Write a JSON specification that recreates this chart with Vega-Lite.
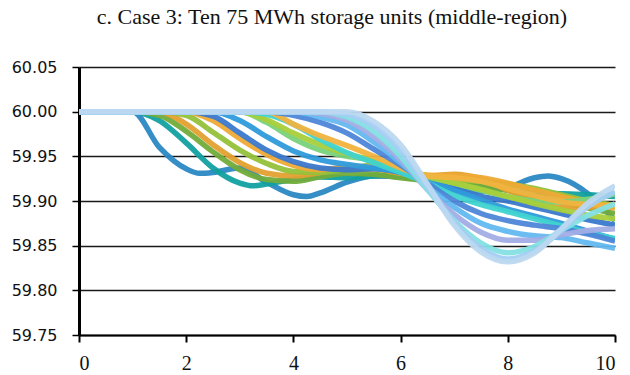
{
  "$schema": "https://vega.github.io/schema/vega-lite/v6.json",
  "width": 536,
  "height": 268,
  "autosize": {"type": "none"},
  "padding": {"left": 79, "top": 67, "right": 15, "bottom": 40},
  "background": "white",
  "title": {"text": "c. Case 3: Ten 75 MWh storage units (middle-region)", "font": "Liberation Serif", "fontSize": 22, "fontWeight": "normal", "color": "#111111", "anchor": "middle", "dx": -15, "offset": 30},
  "config": {"view": {"stroke": null}},
  "data": {"values": [
    {"t": 0, "c01": 60, "c02": 60, "c03": 60, "c04": 60, "c05": 60, "c06": 60, "c07": 60, "c08": 60, "c09": 60, "c10": 60, "c11": 60, "c12": 60, "c13": 60, "c14": 60, "c15": 60, "c16": 60, "c17": 60, "c18": 60},
    {"t": 0.5, "c01": 60, "c02": 60, "c03": 60, "c04": 60, "c05": 60, "c06": 60, "c07": 60, "c08": 60, "c09": 60, "c10": 60, "c11": 60, "c12": 60, "c13": 60, "c14": 60, "c15": 60, "c16": 60, "c17": 60, "c18": 60},
    {"t": 1.0, "c01": 60, "c02": 60, "c03": 60, "c04": 60, "c05": 60, "c06": 60, "c07": 60, "c08": 60, "c09": 60, "c10": 60, "c11": 60, "c12": 60, "c13": 60, "c14": 60, "c15": 60, "c16": 60, "c17": 60, "c18": 60},
    {"t": 1.5, "c01": 59.96, "c02": 59.99, "c03": 59.996, "c04": 60, "c05": 60, "c06": 60, "c07": 60, "c08": 60, "c09": 60, "c10": 60, "c11": 60, "c12": 60, "c13": 60, "c14": 60, "c15": 60, "c16": 60, "c17": 60, "c18": 60},
    {"t": 2.0, "c01": 59.936, "c02": 59.965, "c03": 59.978, "c04": 59.986, "c05": 59.996, "c06": 60, "c07": 60, "c08": 60, "c09": 60, "c10": 60, "c11": 60, "c12": 60, "c13": 60, "c14": 60, "c15": 60, "c16": 60, "c17": 60, "c18": 60},
    {"t": 2.25, "c01": 59.931},
    {"t": 2.5, "c01": 59.932, "c02": 59.937, "c03": 59.955, "c04": 59.963, "c05": 59.977, "c06": 59.99, "c07": 59.995, "c08": 60, "c09": 60, "c10": 60, "c11": 60, "c12": 60, "c13": 60, "c14": 60, "c15": 60, "c16": 60, "c17": 60, "c18": 60},
    {"t": 3.0, "c01": 59.937, "c02": 59.92, "c03": 59.935, "c04": 59.943, "c05": 59.957, "c06": 59.97, "c07": 59.976, "c08": 59.99, "c09": 60, "c10": 60, "c11": 60, "c12": 60, "c13": 60, "c14": 60, "c15": 60, "c16": 60, "c17": 60, "c18": 60},
    {"t": 3.25, "c02": 59.917},
    {"t": 3.5, "c01": 59.921, "c02": 59.919, "c03": 59.924, "c04": 59.931, "c05": 59.942, "c06": 59.952, "c07": 59.957, "c08": 59.972, "c09": 59.988, "c10": 59.991, "c11": 59.997, "c12": 60, "c13": 60, "c14": 60, "c15": 60, "c16": 60, "c17": 60, "c18": 60},
    {"t": 4.0, "c01": 59.907, "c02": 59.924, "c03": 59.922, "c04": 59.928, "c05": 59.933, "c06": 59.94, "c07": 59.944, "c08": 59.956, "c09": 59.97, "c10": 59.976, "c11": 59.986, "c12": 59.986, "c13": 59.996, "c14": 60, "c15": 60, "c16": 60, "c17": 60, "c18": 60},
    {"t": 4.25, "c01": 59.905},
    {"t": 4.5, "c01": 59.909, "c02": 59.927, "c03": 59.927, "c04": 59.932, "c05": 59.932, "c06": 59.935, "c07": 59.937, "c08": 59.946, "c09": 59.957, "c10": 59.963, "c11": 59.969, "c12": 59.973, "c13": 59.988, "c14": 59.994, "c15": 59.998, "c16": 60, "c17": 60, "c18": 60},
    {"t": 5.0, "c01": 59.921, "c02": 59.926, "c03": 59.931, "c04": 59.937, "c05": 59.936, "c06": 59.938, "c07": 59.935, "c08": 59.941, "c09": 59.95, "c10": 59.953, "c11": 59.954, "c12": 59.962, "c13": 59.976, "c14": 59.985, "c15": 59.99, "c16": 59.994, "c17": 59.997, "c18": 60},
    {"t": 5.5, "c01": 59.928, "c02": 59.928, "c03": 59.93, "c04": 59.936, "c05": 59.94, "c06": 59.938, "c07": 59.936, "c08": 59.937, "c09": 59.946, "c10": 59.945, "c11": 59.943, "c12": 59.95, "c13": 59.958, "c14": 59.966, "c15": 59.972, "c16": 59.978, "c17": 59.984, "c18": 59.989},
    {"t": 6.0, "c01": 59.927, "c02": 59.929, "c03": 59.926, "c04": 59.931, "c05": 59.936, "c06": 59.933, "c07": 59.932, "c08": 59.932, "c09": 59.937, "c10": 59.936, "c11": 59.932, "c12": 59.937, "c13": 59.94, "c14": 59.943, "c15": 59.946, "c16": 59.95, "c17": 59.957, "c18": 59.963},
    {"t": 6.5, "c01": 59.922, "c02": 59.925, "c03": 59.923, "c04": 59.928, "c05": 59.928, "c06": 59.929, "c07": 59.922, "c08": 59.922, "c09": 59.927, "c10": 59.928, "c11": 59.92, "c12": 59.928, "c13": 59.92, "c14": 59.916, "c15": 59.913, "c16": 59.913, "c17": 59.916, "c18": 59.919},
    {"t": 7.0, "c01": 59.916, "c02": 59.921, "c03": 59.922, "c04": 59.93, "c05": 59.924, "c06": 59.928, "c07": 59.913, "c08": 59.912, "c09": 59.92, "c10": 59.92, "c11": 59.906, "c12": 59.926, "c13": 59.9, "c14": 59.893, "c15": 59.885, "c16": 59.878, "c17": 59.876, "c18": 59.873},
    {"t": 7.5, "c01": 59.911, "c02": 59.917, "c03": 59.918, "c04": 59.925, "c05": 59.922, "c06": 59.926, "c07": 59.905, "c08": 59.901, "c09": 59.912, "c10": 59.913, "c11": 59.896, "c12": 59.922, "c13": 59.886, "c14": 59.875, "c15": 59.865, "c16": 59.853, "c17": 59.847, "c18": 59.843},
    {"t": 8.0, "c01": 59.915, "c02": 59.912, "c03": 59.912, "c04": 59.912, "c05": 59.919, "c06": 59.92, "c07": 59.9, "c08": 59.891, "c09": 59.905, "c10": 59.905, "c11": 59.888, "c12": 59.914, "c13": 59.878, "c14": 59.866, "c15": 59.856, "c16": 59.842, "c17": 59.835, "c18": 59.832},
    {"t": 8.5, "c01": 59.926, "c02": 59.909, "c03": 59.905, "c04": 59.899, "c05": 59.914, "c06": 59.912, "c07": 59.893, "c08": 59.883, "c09": 59.9, "c10": 59.897, "c11": 59.88, "c12": 59.906, "c13": 59.873, "c14": 59.861, "c15": 59.856, "c16": 59.849, "c17": 59.844, "c18": 59.842},
    {"t": 8.75, "c01": 59.928},
    {"t": 9.0, "c01": 59.925, "c02": 59.908, "c03": 59.899, "c04": 59.893, "c05": 59.907, "c06": 59.905, "c07": 59.886, "c08": 59.875, "c09": 59.899, "c10": 59.89, "c11": 59.872, "c12": 59.899, "c13": 59.869, "c14": 59.859, "c15": 59.862, "c16": 59.867, "c17": 59.867, "c18": 59.869},
    {"t": 9.5, "c01": 59.908, "c02": 59.907, "c03": 59.892, "c04": 59.893, "c05": 59.9, "c06": 59.898, "c07": 59.879, "c08": 59.866, "c09": 59.902, "c10": 59.884, "c11": 59.864, "c12": 59.896, "c13": 59.863, "c14": 59.853, "c15": 59.867, "c16": 59.884, "c17": 59.894, "c18": 59.898},
    {"t": 10, "c01": 59.878, "c02": 59.905, "c03": 59.886, "c04": 59.894, "c05": 59.895, "c06": 59.892, "c07": 59.873, "c08": 59.857, "c09": 59.908, "c10": 59.88, "c11": 59.858, "c12": 59.895, "c13": 59.855, "c14": 59.847, "c15": 59.869, "c16": 59.897, "c17": 59.91, "c18": 59.917}
  ]},
  "transform": [
    {"fold": ["c01", "c02", "c03", "c04", "c05", "c06", "c07", "c08", "c09", "c10", "c11", "c12", "c13", "c14", "c15", "c16", "c17", "c18"], "as": ["series", "f"]},
    {"filter": "isValid(datum.f)"}
  ],
  "mark": {"type": "line", "strokeWidth": 5.5, "interpolate": "monotone", "clip": true, "opacity": 0.95},
  "encoding": {
    "x": {"field": "t", "type": "quantitative",
      "scale": {"domain": [0, 10], "nice": false, "zero": false},
      "axis": {"title": null, "values": [0, 2, 4, 6, 8, 10], "grid": false, "domainColor": "#000000", "domainWidth": 2, "tickColor": "#000000", "tickWidth": 2, "tickSize": 7, "labelFont": "Liberation Serif", "labelFontSize": 20, "labelColor": "#111111", "labelPadding": 11}},
    "y": {"field": "f", "type": "quantitative",
      "scale": {"domain": [59.75, 60.05], "nice": false, "zero": false},
      "axis": {"title": null, "values": [59.75, 59.8, 59.85, 59.9, 59.95, 60, 60.05], "format": ".2f", "grid": true, "gridColor": "#1a1a1a", "gridWidth": 1.5, "domainColor": "#000000", "domainWidth": 3, "tickColor": "#000000", "tickWidth": 1.5, "tickSize": 7, "labelFont": "DejaVu Sans", "labelFontSize": 16, "labelColor": "#111111", "labelPadding": 15}},
    "color": {"field": "series", "type": "nominal", "legend": null,
      "scale": {"domain": ["c01", "c02", "c03", "c04", "c05", "c06", "c07", "c08", "c09", "c10", "c11", "c12", "c13", "c14", "c15", "c16", "c17", "c18"],
        "range": ["#2A88C2", "#12A0A0", "#72AC3A", "#E3A02F", "#93C13A", "#EEAA35", "#3B78CC", "#2F9BDB", "#79D27A", "#A8CF3A", "#3FD3CF", "#F2B33F", "#4D86D8", "#62B8F0", "#A3ADE5", "#84E0E4", "#A3CDF3", "#BCD8F0"]}}
  }
}
